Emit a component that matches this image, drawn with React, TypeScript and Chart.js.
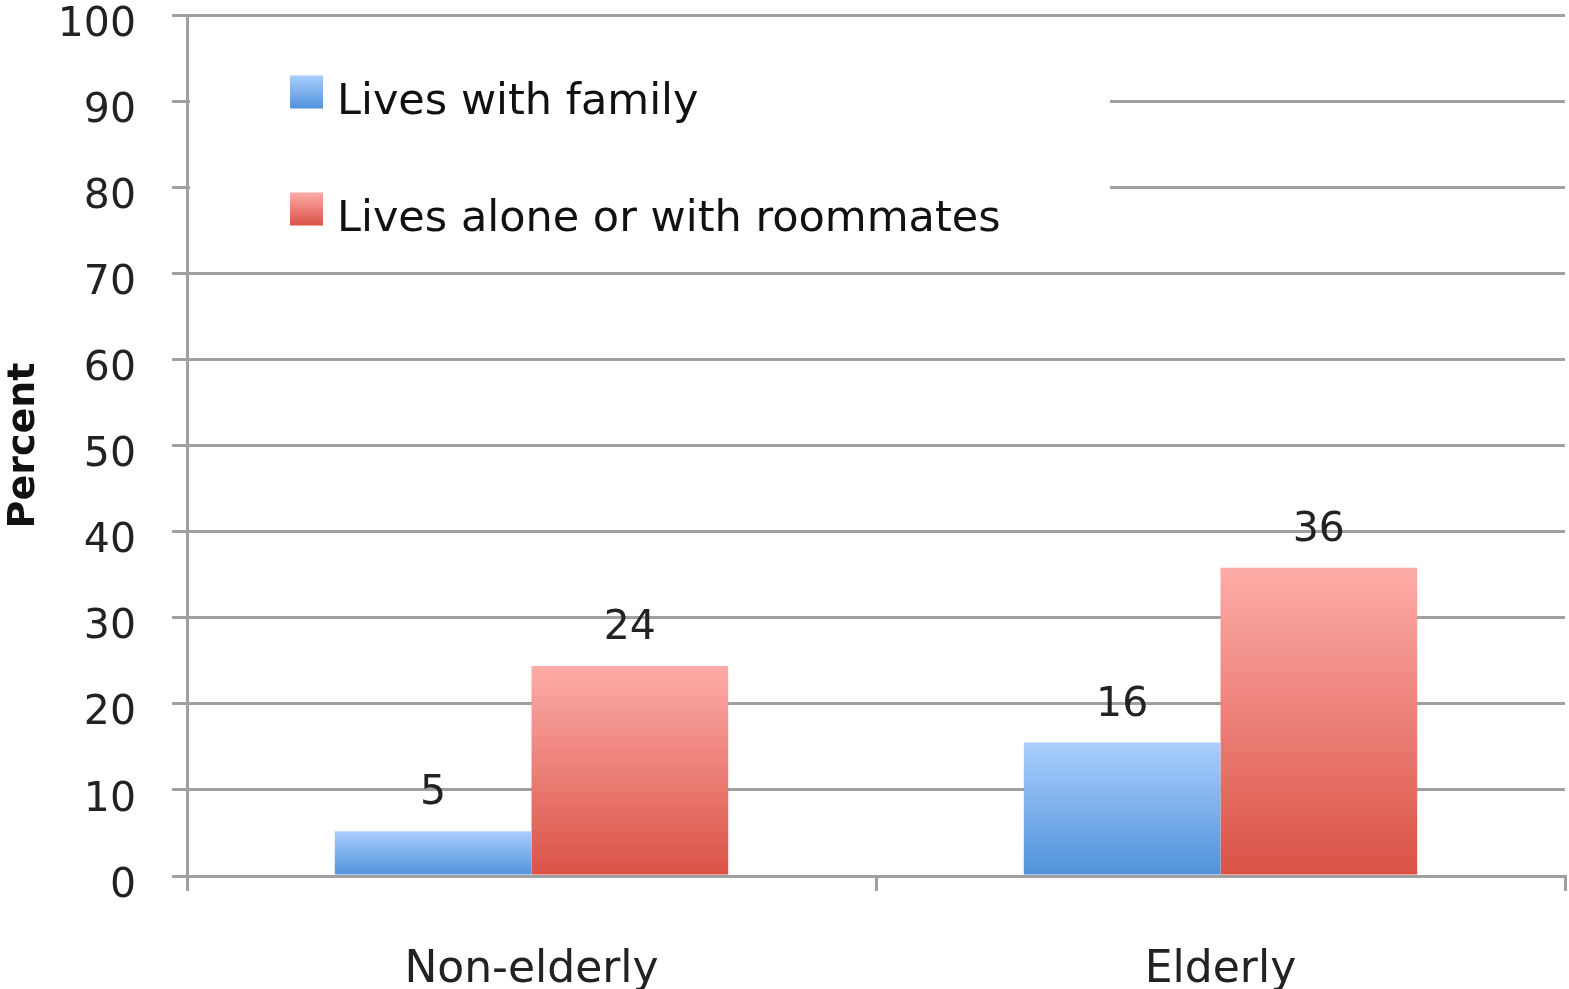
import React, { useEffect, useRef } from "react";
import { Chart, registerables } from "chart.js";

Chart.register(...registerables);

const categories = ["Non-elderly", "Elderly"];
const seriesNames = ["Lives with family", "Lives alone or with roommates"];
const familyValues = [5.2, 15.5];
const aloneValues = [24.4, 35.8];
const yMin = 0;
const yMax = 100;
const yStep = 10;

const FONT = "'DejaVu Sans', sans-serif";
const GRID = "#a0a0a0";

const blueStops = ["#aacefd", "#4e92da"];
const redStops = ["#fdaca8", "#da5245"];

function gradientFill(stops: string[]) {
  return (ctx: any) => {
    const chart = ctx.chart;
    if (!chart.chartArea || ctx.type !== "data") return stops[1];
    const y = chart.scales.y;
    const top = y.getPixelForValue(ctx.raw);
    const bot = y.getPixelForValue(0);
    const g = chart.ctx.createLinearGradient(0, top, 0, bot);
    g.addColorStop(0, stops[0]);
    g.addColorStop(1, stops[1]);
    return g;
  };
}

const legendPlugin = {
  id: "insideLegend",
  beforeDatasetsDraw(chart: any) {
    const { ctx, chartArea } = chart;
    ctx.save();
    ctx.fillStyle = "#ffffff";
    ctx.fillRect(chartArea.left + 3, chartArea.top + 6, 920, 235);
    const items = [
      { label: seriesNames[0], stops: blueStops, cy: 92 },
      { label: seriesNames[1], stops: redStops, cy: 209 },
    ];
    items.forEach((it) => {
      const x = 290;
      const size = 33;
      const top = it.cy - size / 2;
      const g = ctx.createLinearGradient(0, top, 0, top + size);
      g.addColorStop(0, it.stops[0]);
      g.addColorStop(1, it.stops[1]);
      ctx.fillStyle = g;
      ctx.fillRect(x, top, size, size);
      ctx.fillStyle = "#111111";
      ctx.font = `43px ${FONT}`;
      ctx.textBaseline = "alphabetic";
      ctx.textAlign = "left";
      ctx.fillText(it.label, 337, it.cy + 22);
    });
    ctx.restore();
  },
};

const valueLabelPlugin = {
  id: "valueLabels",
  afterDatasetsDraw(chart: any) {
    const { ctx } = chart;
    ctx.save();
    ctx.fillStyle = "#222222";
    ctx.font = `41px ${FONT}`;
    ctx.textAlign = "center";
    ctx.textBaseline = "alphabetic";
    chart.data.datasets.forEach((ds: any, di: number) => {
      const meta = chart.getDatasetMeta(di);
      meta.data.forEach((bar: any, i: number) => {
        ctx.fillText(String(Math.round(ds.data[i])), bar.x, bar.y - 27);
      });
    });
    ctx.restore();
  },
};

export default function App() {
  const ref = useRef<HTMLCanvasElement | null>(null);
  useEffect(() => {
    document.body.style.margin = "0";
    const canvas = ref.current;
    if (!canvas) return;
    const chart = new Chart(canvas, {
      type: "bar",
      data: {
        labels: categories,
        datasets: [
          {
            label: seriesNames[0],
            data: familyValues,
            backgroundColor: gradientFill(blueStops),
            borderWidth: 0,
            categoryPercentage: 0.571,
            barPercentage: 1,
          },
          {
            label: seriesNames[1],
            data: aloneValues,
            backgroundColor: gradientFill(redStops),
            borderWidth: 0,
            categoryPercentage: 0.571,
            barPercentage: 1,
          },
        ],
      },
      options: {
        responsive: false,
        animation: false,
        devicePixelRatio: 1,
        layout: { padding: { top: 15, right: 4, left: 0, bottom: 0 } },
        plugins: {
          legend: { display: false },
          tooltip: { enabled: false },
        },
        scales: {
          x: {
            grid: {
              display: true,
              drawOnChartArea: false,
              drawTicks: true,
              tickLength: 15,
              color: GRID,
              lineWidth: 3,
              offset: true,
            },
            border: { color: GRID, width: 3 },
            ticks: {
              color: "#222222",
              font: { family: FONT, size: 44 },
              padding: 53,
              maxRotation: 0,
            },
            afterFit(scale: any) {
              scale.height = 113;
              scale.paddingLeft = 0;
              scale.paddingRight = 0;
            },
          },
          y: {
            min: yMin,
            max: yMax,
            grid: {
              color: GRID,
              lineWidth: 3,
              tickLength: 15,
              drawTicks: true,
            },
            border: { color: GRID, width: 3 },
            ticks: {
              stepSize: yStep,
              color: "#222222",
              font: { family: FONT, size: 41 },
              padding: 36,
              labelOffset: 10,
            },
            title: {
              display: true,
              text: "Percent",
              color: "#111111",
              font: { family: FONT, size: 38, weight: "bold" },
              padding: { top: 1, bottom: 0 },
            },
            afterFit(scale: any) {
              scale.width = 187;
              scale.paddingTop = 0;
              scale.paddingBottom = 0;
            },
          },
        },
      },
      plugins: [legendPlugin, valueLabelPlugin],
    });
    return () => chart.destroy();
  }, []);
  return (
    <canvas
      ref={ref}
      width={1569}
      height={989}
      style={{ display: "block", width: 1569, height: 989 }}
    />
  );
}
